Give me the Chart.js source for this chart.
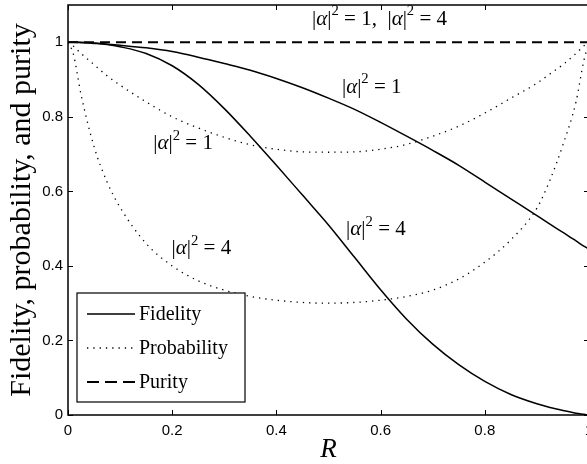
<!DOCTYPE html>
<html>
<head>
<meta charset="utf-8">
<script src="https://cdn.jsdelivr.net/npm/chart.js@4.4.1/dist/chart.umd.min.js"></script>
<style>
  html, body { margin: 0; padding: 0; overflow: hidden; background: #fff; }
  #wrap { width: 595px; height: 464px; }
</style>
</head>
<body>
<div id="wrap"><canvas id="chartFidelity" width="595" height="464"></canvas></div>
<script>
// beam splitter reflectivity R
const rValues = [0, 0.01, 0.025, 0.05, 0.075, 0.1, 0.15, 0.2, 0.25, 0.3, 0.35, 0.4, 0.45, 0.5,
  0.55, 0.6, 0.65, 0.7, 0.75, 0.8, 0.85, 0.9, 0.925, 0.95, 0.975, 0.99, 1];

// |alpha|^2 = 1
const fidelity1 = [1, 1, 1, 0.998, 0.995, 0.992, 0.985, 0.975, 0.96, 0.943, 0.925, 0.903, 0.878, 0.85,
  0.82, 0.785, 0.748, 0.71, 0.67, 0.625, 0.58, 0.535, 0.512, 0.49, 0.467, 0.453, 0.445];
const probability1 = [1, 0.99, 0.97, 0.94, 0.91, 0.885, 0.84, 0.80, 0.77, 0.745, 0.725, 0.713, 0.706, 0.705,
  0.706, 0.713, 0.726, 0.748, 0.775, 0.81, 0.85, 0.89, 0.915, 0.94, 0.97, 0.99, 1];

// |alpha|^2 = 4
const fidelity4 = [1, 1, 0.999, 0.997, 0.994, 0.988, 0.97, 0.937, 0.887, 0.822, 0.748, 0.67, 0.59, 0.51,
  0.423, 0.336, 0.257, 0.19, 0.135, 0.09, 0.055, 0.03, 0.02, 0.012, 0.005, 0.002, 0];
const probability4 = [1, 0.97, 0.86, 0.72, 0.625, 0.557, 0.46, 0.40, 0.36, 0.335, 0.318, 0.308, 0.302, 0.30,
  0.302, 0.308, 0.318, 0.335, 0.365, 0.41, 0.47, 0.555, 0.63, 0.725, 0.84, 0.95, 1];

const purity = [1, 1, 1, 1, 1, 1, 1, 1, 1, 1, 1, 1, 1, 1, 1, 1, 1, 1, 1, 1, 1, 1, 1, 1, 1, 1, 1];

const xTicks = [0, 0.2, 0.4, 0.6, 0.8, 1];
const yTicks = [0, 0.2, 0.4, 0.6, 0.8, 1];

const legendLabels = ["Fidelity", "Probability", "Purity"];

// curve labels: text, R, value
const noteTexts = ["|α|² = 1,  |α|² = 4", "|α|² = 1", "|α|² = 1", "|α|² = 4", "|α|² = 4"];
const noteR = [0.598, 0.583, 0.221, 0.591, 0.256];
const noteV = [1.061, 0.879, 0.728, 0.497, 0.446];

const SERIF = "'Liberation Serif', 'Times New Roman', serif";
const SANS = "'Liberation Sans', Arial, Helvetica, sans-serif";

const solid = { borderColor: "#000", borderWidth: 1.5, borderDash: [] };
const dotted = { borderColor: "#000", borderWidth: 1.3, borderDash: [1.3, 5] };
const dashed = { borderColor: "#000", borderWidth: 2, borderDash: [10, 6] };

function serie(values, style) {
  return Object.assign({
    data: rValues.map((r, i) => ({ x: r, y: values[i] })),
    pointRadius: 0,
    fill: false,
    cubicInterpolationMode: "monotone",
  }, style);
}

// draws strings like |α|² = 1 with italic alpha and a raised 2
function drawMath(ctx, text, cx, cy, size) {
  const parts = [];
  for (const ch of text) {
    if (ch === "²") parts.push({ t: "2", font: (size * 0.7) + "px " + SERIF, dy: -size * 0.38 });
    else if (ch === "α") parts.push({ t: ch, font: "italic " + size + "px " + SERIF, dy: 0 });
    else if (ch === "=") parts.push({ t: " = ", font: size + "px " + SERIF, dy: 0 });
    else if (ch === " ") continue;
    else if (ch === ",") parts.push({ t: ",  ", font: size + "px " + SERIF, dy: 0 });
    else parts.push({ t: ch, font: size + "px " + SERIF, dy: 0 });
  }
  let total = 0;
  parts.forEach(p => { ctx.font = p.font; p.w = ctx.measureText(p.t).width; total += p.w; });
  let x = cx - total / 2;
  ctx.textAlign = "left";
  ctx.textBaseline = "middle";
  ctx.fillStyle = "#000";
  parts.forEach(p => { ctx.font = p.font; ctx.fillText(p.t, x, cy + p.dy); x += p.w; });
}

const extras = {
  id: "extras",
  afterDraw(chart) {
    const { ctx, chartArea: a, scales } = chart;
    const xs = scales.x, ys = scales.y;
    ctx.save();
    // frame
    ctx.strokeStyle = "#000";
    ctx.lineWidth = 1.5;
    ctx.setLineDash([]);
    ctx.strokeRect(a.left, a.top, a.right - a.left, a.bottom - a.top);
    // inward ticks on all sides
    ctx.lineWidth = 1;
    ctx.beginPath();
    xTicks.forEach(v => {
      const px = Math.round(xs.getPixelForValue(v)) + 0.5;
      ctx.moveTo(px, a.bottom); ctx.lineTo(px, a.bottom - 5);
      ctx.moveTo(px, a.top); ctx.lineTo(px, a.top + 5);
    });
    yTicks.forEach(v => {
      const py = Math.round(ys.getPixelForValue(v)) + 0.5;
      ctx.moveTo(a.left, py); ctx.lineTo(a.left + 5, py);
      ctx.moveTo(a.right, py); ctx.lineTo(a.right - 5, py);
    });
    ctx.stroke();

    // curve labels
    noteTexts.forEach((t, i) => {
      drawMath(ctx, t, xs.getPixelForValue(noteR[i]), ys.getPixelForValue(noteV[i]), 21);
    });

    // legend box
    const bx = a.left + 9, by = a.bottom - 122, bw = 168, bh = 109;
    ctx.fillStyle = "#fff";
    ctx.fillRect(bx, by, bw, bh);
    ctx.lineWidth = 1.2;
    ctx.strokeRect(bx, by, bw, bh);
    const styles = [solid, dotted, dashed];
    legendLabels.forEach((lab, i) => {
      const ry = by + 21 + i * 34;
      const st = styles[i];
      ctx.beginPath();
      ctx.setLineDash(i === 2 ? [12, 6] : st.borderDash);
      ctx.lineWidth = st.borderWidth;
      ctx.moveTo(bx + 10, ry);
      ctx.lineTo(bx + 58, ry);
      ctx.stroke();
      ctx.setLineDash([]);
      ctx.font = "20px " + SERIF;
      ctx.textAlign = "left";
      ctx.textBaseline = "alphabetic";
      ctx.fillStyle = "#000";
      ctx.fillText(lab, bx + 62, ry + 6);
    });
    ctx.restore();
  }
};

const ctx_fid = document.getElementById("chartFidelity");

const myChart = new Chart(ctx_fid, {
  type: "line",
  data: {
    datasets: [
      serie(fidelity1, solid),
      serie(fidelity4, solid),
      serie(probability1, dotted),
      serie(probability4, dotted),
      serie(purity, dashed),
    ],
  },
  options: {
    responsive: false,
    animation: false,
    layout: { padding: { left: 0, top: 5, right: 6, bottom: 0 } },
    plugins: { legend: { display: false }, tooltip: { enabled: false } },
    scales: {
      x: {
        type: "linear",
        min: 0,
        max: 1,
        afterBuildTicks: s => { s.ticks = xTicks.map(v => ({ value: v })); },
        afterFit: s => { s.height = 49; s.paddingLeft = 0; s.paddingRight = 0; },
        grid: { display: false, drawTicks: false },
        border: { display: false },
        ticks: {
          color: "#000",
          font: { family: SANS, size: 15 },
          padding: 7,
          maxRotation: 0,
          callback: v => String(+Number(v).toFixed(1)),
        },
        title: {
          display: true,
          text: "R",
          color: "#000",
          font: { family: SERIF, size: 27, style: "italic", lineHeight: 1 },
          padding: { top: 0, bottom: 1 },
        },
      },
      y: {
        min: 0,
        max: 1.1,
        afterBuildTicks: s => { s.ticks = yTicks.map(v => ({ value: v })); },
        afterFit: s => { s.width = 68; s.paddingTop = 0; s.paddingBottom = 0; },
        grid: { display: false, drawTicks: false },
        border: { display: false },
        ticks: {
          color: "#000",
          font: { family: SANS, size: 15 },
          padding: 5,
          callback: v => String(+Number(v).toFixed(1)),
        },
        title: {
          display: true,
          text: "Fidelity, probability, and purity",
          color: "#000",
          font: { family: SERIF, size: 30, lineHeight: 1 },
          padding: { top: 7, bottom: 0 },
        },
      },
    },
  },
  plugins: [extras],
});
</script>
</body>
</html>
